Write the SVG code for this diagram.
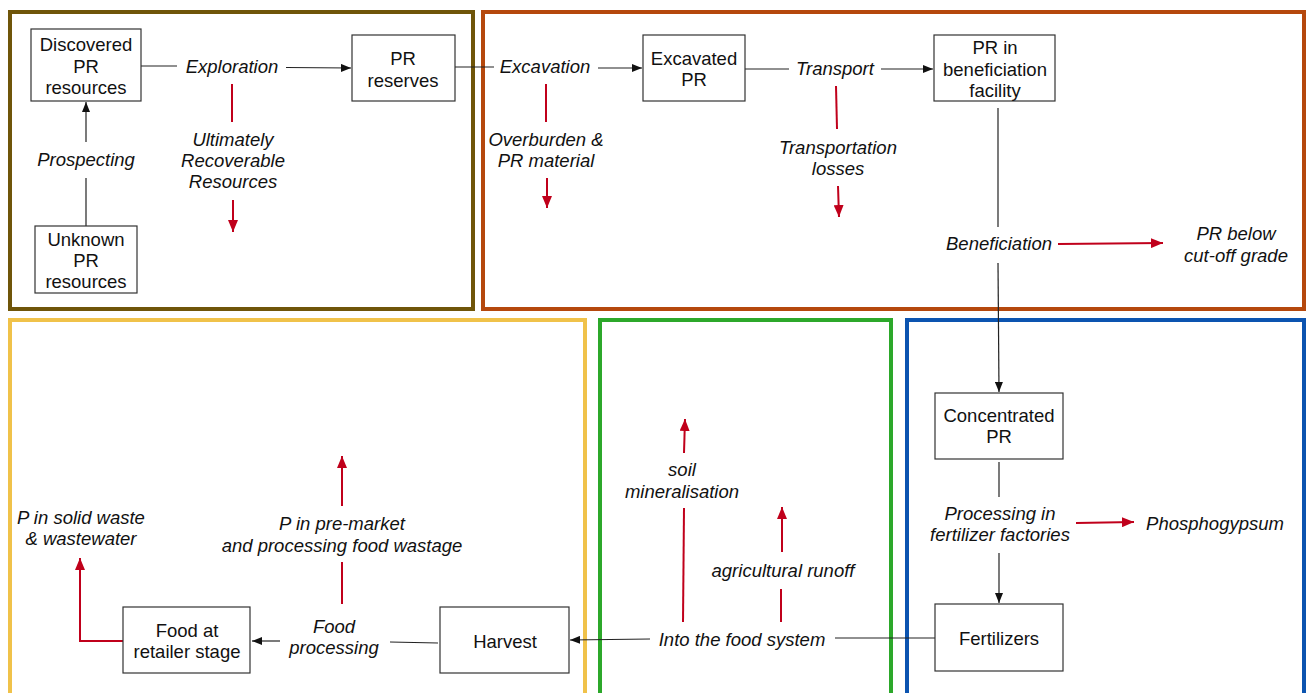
<svg xmlns="http://www.w3.org/2000/svg" width="1306" height="693" viewBox="0 0 1306 693">
<style>
.frame{fill:none;stroke-width:4}
.node rect{fill:#fff;stroke:#333;stroke-width:1.2}
text{font-family:"Liberation Sans",Arial,sans-serif;font-size:18.5px;fill:#111;text-anchor:middle}
.lbl{font-style:italic}
.bl{stroke:#222;stroke-width:1.2;fill:none}
.rd{stroke:#c0001b;stroke-width:2;fill:none}
</style>
<defs>
<marker id="ab" viewBox="0 0 10 8" refX="10" refY="4" markerWidth="10" markerHeight="8" markerUnits="userSpaceOnUse" orient="auto"><path d="M0,0 L10,4 L0,8 z" fill="#111"/></marker>
<marker id="ar" viewBox="0 0 12 10" refX="12" refY="5" markerWidth="12" markerHeight="10" markerUnits="userSpaceOnUse" orient="auto"><path d="M0,0 L12,5 L0,10 z" fill="#c0001b"/></marker>
</defs>
<rect width="1306" height="693" fill="#fff"/>
<g id="frames">
<rect class="frame" x="10" y="12" width="463" height="297" stroke="#6f5509"/>
<rect class="frame" x="483" y="12" width="821" height="297" stroke="#b5480d"/>
<rect class="frame" x="10" y="320" width="575" height="400" stroke="#f0c24a"/>
<rect class="frame" x="600" y="320" width="291" height="400" stroke="#2ca82a"/>
<rect class="frame" x="907" y="320" width="397" height="400" stroke="#0c54b0"/>
</g>
<g id="connectors">
<line class="bl" x1="141" y1="66" x2="177" y2="66"/>
<line class="bl" x1="286" y1="67.5" x2="351" y2="68" marker-end="url(#ab)"/>
<line class="bl" x1="86" y1="226" x2="86" y2="178"/>
<line class="bl" x1="86" y1="142" x2="86" y2="102" marker-end="url(#ab)"/>
<line class="bl" x1="455" y1="67" x2="494" y2="67"/>
<line class="bl" x1="598" y1="68" x2="642" y2="68" marker-end="url(#ab)"/>
<line class="bl" x1="745" y1="69" x2="789" y2="69"/>
<line class="bl" x1="881" y1="69" x2="933" y2="69" marker-end="url(#ab)"/>
<line class="bl" x1="998" y1="108" x2="998" y2="227"/>
<line class="bl" x1="998" y1="263" x2="999" y2="392" marker-end="url(#ab)"/>
<line class="bl" x1="999" y1="462" x2="999" y2="497"/>
<line class="bl" x1="999" y1="553" x2="999" y2="603" marker-end="url(#ab)"/>
<line class="bl" x1="935" y1="638" x2="835" y2="638"/>
<line class="bl" x1="650" y1="639" x2="570" y2="640" marker-end="url(#ab)"/>
<line class="bl" x1="438" y1="643" x2="390" y2="642" stroke="#555"/>
<line class="bl" x1="280" y1="641" x2="252" y2="641" marker-end="url(#ab)"/>
<line class="rd" x1="232" y1="84" x2="232" y2="122"/>
<line class="rd" x1="233" y1="200" x2="233" y2="232" marker-end="url(#ar)"/>
<line class="rd" x1="546" y1="84" x2="546" y2="122"/>
<line class="rd" x1="547" y1="178" x2="547" y2="208" marker-end="url(#ar)"/>
<line class="rd" x1="836" y1="86" x2="837" y2="129"/>
<line class="rd" x1="838" y1="186" x2="839" y2="217" marker-end="url(#ar)"/>
<line class="rd" x1="1058" y1="244" x2="1163" y2="243" marker-end="url(#ar)"/>
<line class="rd" x1="1076" y1="523" x2="1134" y2="522" marker-end="url(#ar)"/>
<line class="rd" x1="683" y1="622" x2="684" y2="508"/>
<line class="rd" x1="684" y1="453" x2="685" y2="419" marker-end="url(#ar)"/>
<line class="rd" x1="781" y1="622" x2="781" y2="589"/>
<line class="rd" x1="782" y1="552" x2="782" y2="507" marker-end="url(#ar)"/>
<line class="rd" x1="342" y1="604" x2="342" y2="562"/>
<line class="rd" x1="342" y1="506" x2="342" y2="456" marker-end="url(#ar)"/>
<polyline class="rd" points="123,641 80,641 80,558" marker-end="url(#ar)"/>
</g>
<g id="n-discovered" class="node"><rect x="31" y="29" width="110" height="72"/><text x="86" y="51">Discovered</text><text x="86" y="72.5">PR</text><text x="86" y="94">resources</text></g>
<g id="n-unknown" class="node"><rect x="35" y="226" width="102" height="67"/><text x="86" y="245.5">Unknown</text><text x="86" y="267">PR</text><text x="86" y="288">resources</text></g>
<g id="n-reserves" class="node"><rect x="352" y="35" width="103" height="66"/><text x="403" y="65">PR</text><text x="403" y="86.5">reserves</text></g>
<g id="n-excavated" class="node"><rect x="643" y="35" width="102" height="66"/><text x="694" y="64.5">Excavated</text><text x="694" y="86">PR</text></g>
<g id="n-benef" class="node"><rect x="934" y="35" width="121" height="66"/><text x="995" y="54">PR in</text><text x="995" y="76">beneficiation</text><text x="995" y="97">facility</text></g>
<g id="n-concentrated" class="node"><rect x="935" y="393" width="128" height="66"/><text x="999" y="422">Concentrated</text><text x="999" y="443">PR</text></g>
<g id="n-fertilizers" class="node"><rect x="935" y="604" width="128" height="67"/><text x="999" y="645">Fertilizers</text></g>
<g id="n-harvest" class="node"><rect x="440" y="607" width="129" height="66"/><text x="505" y="647.5">Harvest</text></g>
<g id="n-retailer" class="node"><rect x="123" y="607" width="127" height="66"/><text x="187" y="636.5">Food at</text><text x="187" y="658">retailer stage</text></g>
<g id="labels" class="lbl">
<text x="232" y="73">Exploration</text>
<text x="86" y="166">Prospecting</text>
<text x="233" y="145.5">Ultimately</text><text x="233" y="167">Recoverable</text><text x="233" y="188">Resources</text>
<text x="545" y="73">Excavation</text>
<text x="546" y="145.5">Overburden &amp;</text><text x="546" y="167">PR material</text>
<text x="835" y="75">Transport</text>
<text x="838" y="153.5">Transportation</text><text x="838" y="175">losses</text>
<text x="999" y="250">Beneficiation</text>
<text x="1236" y="240">PR below</text><text x="1236" y="261.5">cut-off grade</text>
<text x="1000" y="520">Processing in</text><text x="1000" y="541">fertilizer factories</text>
<text x="1215" y="530">Phosphogypsum</text>
<text x="742" y="646">Into the food system</text>
<text x="783" y="577">agricultural runoff</text>
<text x="682" y="476">soil</text><text x="682" y="497.5">mineralisation</text>
<text x="334" y="632.5">Food</text><text x="334" y="654">processing</text>
<text x="342" y="530">P in pre-market</text><text x="342" y="551.5">and processing food wastage</text>
<text x="81" y="523.5">P in solid waste</text><text x="81" y="545">&amp; wastewater</text>
</g>
</svg>
